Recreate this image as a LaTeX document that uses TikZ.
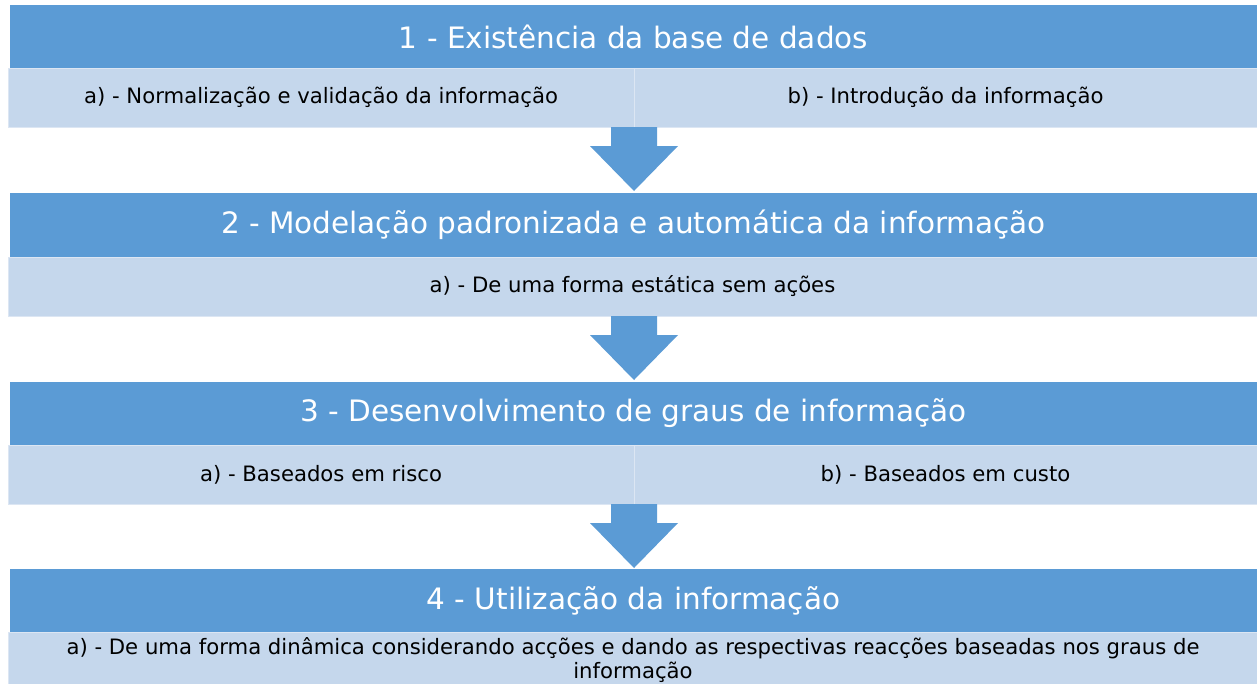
\documentclass[tikz,border=0pt]{standalone}
\usepackage{fontspec}
\setmainfont{DejaVu Sans}
\usetikzlibrary{calc}
\definecolor{hdrblue}{HTML}{5B9BD5}
\definecolor{subblue}{HTML}{C5D7EC}
\definecolor{subedge}{HTML}{DCE6F3}
\tikzset{
  hdr/.style={fill=hdrblue, draw=none, inner sep=0pt, outer sep=0pt, anchor=north west,
    text=white, font=\fontsize{29.5}{35}\selectfont},
  subcell/.style={fill=subblue, draw=subedge, line width=1pt, inner sep=0pt, outer sep=0pt, anchor=north west,
    text=black, font=\fontsize{21.2}{24}\selectfont},
  blockarrow/.style={fill=hdrblue, draw=none}
}
\newcommand\blockdown[2]{%
  \fill[blockarrow] ($(#1)+(-23,0)$) -- ($(#1)+(23,0)$) -- ($(#1)+(23,19)$) -- ($(#1)+(44,19)$)
    -- (#2) -- ($(#1)+(-44,19)$) -- ($(#1)+(-23,19)$) -- cycle;}
\begin{document}
\begin{tikzpicture}[x=1pt,y=-1pt]
\useasboundingbox (0,0) rectangle (1257,683);
% row 1
\node[hdr, minimum width=1247pt, minimum height=63pt] (h1) at (10,5) {1 - Existência da base de dados};
\node[subcell, minimum width=626pt, minimum height=59pt] (s1a) at (8,68) {a) - Normalização e validação da informação};
\node[subcell, minimum width=623pt, minimum height=59pt] (s1b) at (634,68) {b) - Introdução da informação};
\coordinate (t2) at (634,191);
% row 2
\node[hdr, minimum width=1247pt, minimum height=64pt] (h2) at (10,193) {2 - Modelação padronizada e automática da informação};
\node[subcell, minimum width=1249pt, minimum height=59pt] (s2) at (8,257) {a) - De uma forma estática sem ações};
\coordinate (t3) at (634,380);
% row 3
\node[hdr, minimum width=1247pt, minimum height=63pt] (h3) at (10,382) {3 - Desenvolvimento de graus de informação};
\node[subcell, minimum width=626pt, minimum height=59pt] (s3a) at (8,445) {a) - Baseados em risco};
\node[subcell, minimum width=623pt, minimum height=59pt] (s3b) at (634,445) {b) - Baseados em custo};
\coordinate (t4) at (634,568);
% row 4
\node[hdr, minimum width=1247pt, minimum height=63pt] (h4) at (10,569) {4 - Utilização da informação};
\node[subcell, minimum width=1249pt, minimum height=70pt] (s4) at (8,632) {};
\node[font=\fontsize{21.2}{24}\selectfont, align=center, inner sep=0pt, anchor=north] (s4t) at (633,637)
  {a) - De uma forma dinâmica considerando acções e dando as respectivas reacções baseadas nos graus de\\ informação};
% arrows
\blockdown{s1a.south east}{t2}
\blockdown{s2.south -| s1a.east}{t3}
\blockdown{s3a.south east}{t4}
\end{tikzpicture}
\end{document}
